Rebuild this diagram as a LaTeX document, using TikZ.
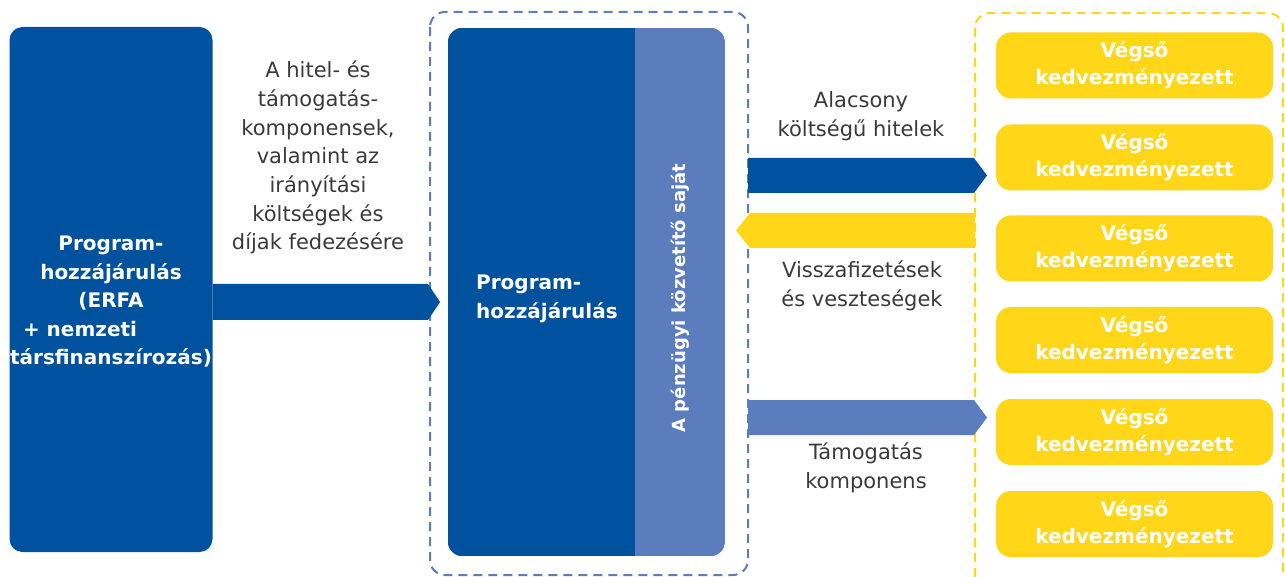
\documentclass[tikz,border=0pt]{standalone}
\usepackage{fontspec}
\setmainfont{DejaVu Sans}
\usetikzlibrary{calc}
\definecolor{dblue}{HTML}{00519E}
\definecolor{lblue}{HTML}{5B7DBE}
\definecolor{ylw}{HTML}{FFD618}
\definecolor{txt}{HTML}{3A3A3A}
\begin{document}
\begin{tikzpicture}[x=1pt,y=-1pt,
  whitebold/.style={text=white,font=\bfseries\fontsize{20}{28.5}\selectfont,align=center,inner sep=0pt},
  lbl/.style={text=txt,font=\fontsize{21}{28.7}\selectfont,align=center,inner sep=0pt},
  final/.style={fill=ylw,rounded corners=15pt,minimum width=277pt,minimum height=66pt,text=white,font=\bfseries\fontsize{20}{27}\selectfont,align=center,inner sep=0pt},
  dashbox/.style={dash pattern=on 9pt off 6pt,line width=2pt,rounded corners=15pt}]
\useasboundingbox (0,0) rectangle (1285,577);

% dashed group frames
\draw[dashbox,draw=lblue] (430,12) rectangle (748,575);
\draw[dashbox,draw=ylw] (975,13) rectangle (1283,610);

% left box
\node[fill=dblue,rounded corners=13pt,minimum width=203pt,minimum height=525pt,inner sep=0pt] (lbox) at (111,289.5) {};
\node[whitebold] (ltext) at (111,302) {Program-\\hozzájárulás\\(ERFA\\\mbox{+ nemzeti\hspace{62pt}}\\társfinanszírozás)};

% financial intermediary box
\node[minimum width=277pt,minimum height=528pt,inner sep=0pt] (fi) at (586.5,292) {};
\begin{scope}
  \clip[rounded corners=15pt] (fi.north west) rectangle (fi.south east);
  \fill[lblue] (fi.north west) rectangle (fi.south east);
  \fill[dblue] (fi.north west) rectangle (635,556);
\end{scope}
\node[whitebold,align=left,anchor=west] (fitext) at (476,299) {Program-\\hozzájárulás};
\node[whitebold,font=\bfseries\fontsize{18}{20}\selectfont,rotate=90] (own) at (680,298) {A pénzügyi közvetítő saját};

% final recipients
\node[final] (v1) at (1134.5,65.5) {Végső\\kedvezményezett};
\node[final] (v2) at (1134.5,157.5) {Végső\\kedvezményezett};
\node[final] (v3) at (1134.5,248.5) {Végső\\kedvezményezett};
\node[final] (v4) at (1134.5,340) {Végső\\kedvezményezett};
\node[final] (v5) at (1134.5,432) {Végső\\kedvezményezett};
\node[final] (v6) at (1134.5,524) {Végső\\kedvezményezett};

% block arrows
\fill[dblue] (lbox.east |- 0,284) -- (428,284) -- (440,302) -- (428,320) -- (lbox.east |- 0,320) -- cycle;
\fill[dblue] (748,158) -- (974,158) -- (987,175.5) -- (974,193) -- (748,193) -- cycle;
\fill[ylw] (975,213) -- (750,213) -- (736,230.5) -- (750,248) -- (975,248) -- cycle;
\fill[lblue] (748,400) -- (974,400) -- (987,417.5) -- (974,435) -- (748,435) -- cycle;

% labels
\node[lbl] (l1) at (318,157.5) {A hitel- és\\támogatás-\\komponensek,\\valamint az\\irányítási\\költségek és\\díjak fedezésére};
\node[lbl] (l2) at (861,116) {Alacsony\\költségű hitelek};
\node[lbl] (l3) at (862,286) {Visszafizetések\\és veszteségek};
\node[lbl] (l4) at (866,467.5) {Támogatás\\komponens};
\end{tikzpicture}
\end{document}
